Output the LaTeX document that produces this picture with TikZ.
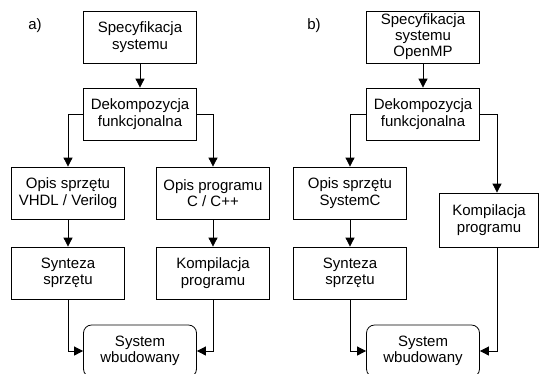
\documentclass[tikz,border=0pt]{standalone}
\usepackage{fontspec}
\setmainfont{Liberation Sans}
\usetikzlibrary{arrows.meta}

\tikzset{
  blok/.style={draw, line width=0.8pt, minimum width=113pt, minimum height=52pt,
    inner sep=0pt, align=center, font=\fontsize{15}{16.5}\selectfont},
  wynik/.style={blok, rounded corners=8pt},
  strz/.style={line width=0.8pt, -{Triangle[width=9pt,length=9pt]}},
}

\begin{document}
\begin{tikzpicture}[x=1pt, y=-1pt]
    \clip (0, 0) rectangle (540, 373);
    \fill[white] (0, 0) rectangle (540, 373);

    % a)
    \node[font=\fontsize{15}{17}\selectfont] (la) at (35, 26) {a)};
    \node[blok] (speca) at (140, 37) {Specyfikacja\\systemu};
    \node[blok] (dekoa) at (140, 114) {Dekompozycja\\funkcjonalna};
    \node[blok] (opisha) at (68, 193) {Opis sprzętu\\VHDL / Verilog};
    \node[blok] (opispa) at (213, 193) {Opis programu\\C / C++};
    \node[blok] (syna) at (68, 273) {Synteza\\sprzętu};
    \node[blok] (kompa) at (213, 273) {Kompilacja\\programu};
    \node[wynik] (sysa) at (140, 351) {System\\wbudowany};

    \draw[strz] (speca) -- (dekoa);
    \draw[strz] (dekoa.west) -| (opisha.north);
    \draw[strz] (dekoa.east) -| (opispa.north);
    \draw[strz] (opisha) -- (syna);
    \draw[strz] (opispa) -- (kompa);
    \draw[strz] (syna.south) |- (sysa.west);
    \draw[strz] (kompa.south) |- (sysa.east);

    % b)
    \node[font=\fontsize{15}{17}\selectfont] (lb) at (314, 26) {b)};
    \node[blok, font=\fontsize{15}{16}\selectfont] (specb) at (423, 37) {Specyfikacja\\systemu\\OpenMP};
    \node[blok] (dekob) at (423, 114) {Dekompozycja\\funkcjonalna};
    \node[blok] (opishb) at (350, 193) {Opis sprzętu\\SystemC};
    \node[blok] (synb) at (350, 273) {Synteza\\sprzętu};
    \node[blok, minimum width=99pt, minimum height=54pt] (kompb) at (489, 220) {Kompilacja\\programu};
    \node[wynik] (sysb) at (423, 351) {System\\wbudowany};
    \coordinate (kb) at (497, 0);

    \draw[strz] (specb) -- (dekob);
    \draw[strz] (dekob.west) -| (opishb.north);
    \draw[strz] (dekob.east) -| (kb |- kompb.north);
    \draw[strz] (opishb) -- (synb);
    \draw[strz] (synb.south) |- (sysb.west);
    \draw[strz] (kb |- kompb.south) |- (sysb.east);
\end{tikzpicture}
\end{document}
